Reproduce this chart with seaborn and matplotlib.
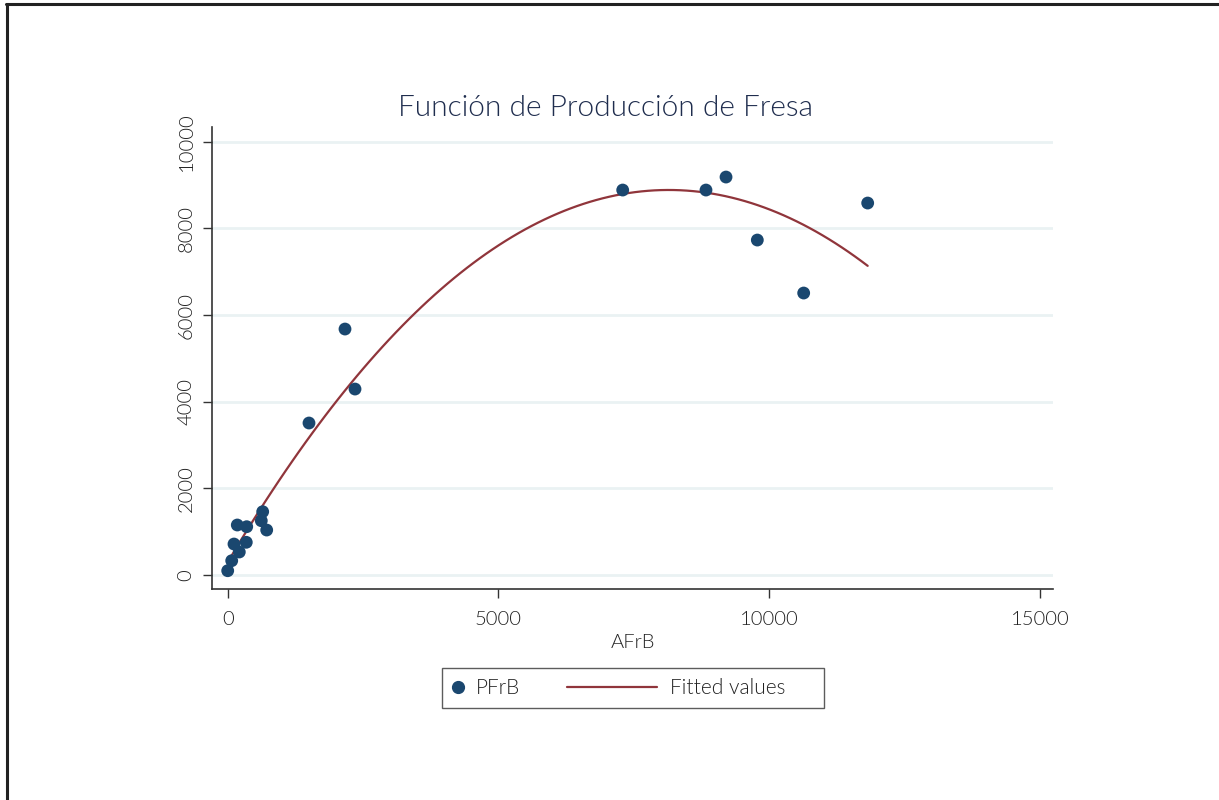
import matplotlib
matplotlib.use("Agg")
import matplotlib.pyplot as plt
from matplotlib.lines import Line2D
from matplotlib.legend_handler import HandlerLine2D
import pandas as pd
import seaborn as sns

# data
afrb = [0, 74, 116, 214, 177, 351, 343, 646, 620, 720,
        1501, 2166, 2351, 7294, 8832, 9202, 9780, 10636, 11818]
pfrb = [99, 330, 715, 531, 1154, 1115, 755, 1461, 1253, 1038,
        3508, 5677, 4292, 8885, 8885, 9185, 7731, 6508, 8585]
x_ticks = [0, 5000, 10000, 15000]
y_ticks = [0, 2000, 4000, 6000, 8000, 10000]

df = pd.DataFrame({"AFrB": afrb, "PFrB": pfrb})

navy = "#1a476f"
maroon = "#90353b"
grid_col = "#eaf2f3"
axis_col = "#333333"
text_col = "#222222"
fw = 300

sns.set_theme(style="white")
plt.rcParams["font.family"] = ["Lato", "DejaVu Sans"]

fig = plt.figure(figsize=(12.19, 8.0), dpi=100)
ax = fig.add_axes([212 / 1219, 1 - 589 / 800, (1053 - 212) / 1219, (589 - 127) / 800])

for yt in y_ticks:
    ax.axhline(yt, color=grid_col, lw=2, zorder=0)

sns.scatterplot(data=df, x="AFrB", y="PFrB", ax=ax, color=navy, s=85,
                edgecolor="none", legend=False, zorder=3)
sns.regplot(data=df, x="AFrB", y="PFrB", ax=ax, order=2, ci=None, scatter=False,
            line_kws={"color": maroon, "lw": 1.6, "zorder": 2})

ax.set_xlim(-290, 15240)
ax.set_ylim(-323, 10340)
ax.set_xticks(x_ticks)
ax.set_yticks(y_ticks)
ax.set_xticklabels([str(v) for v in x_ticks], fontsize=14.5, fontweight=fw, color=text_col)
ax.set_yticklabels([str(v) for v in y_ticks], fontsize=14.5, fontweight=fw, color=text_col,
                   rotation=90, va="center")
ax.tick_params(axis="x", direction="out", length=6.5, width=1, color=axis_col, pad=9, bottom=True)
ax.tick_params(axis="y", direction="out", length=6.5, width=1, color=axis_col, pad=6, left=True)
ax.set_xlabel("AFrB", fontsize=14.5, fontweight=fw, color=text_col, labelpad=5)
ax.set_ylabel("")
ax.set_title("Función de Producción de Fresa", fontsize=21.5, fontweight=fw, color="#1f2d4e",
             pad=8, x=(605 - 212) / 841)

for side in ["top", "right"]:
    ax.spines[side].set_visible(False)
for side in ["left", "bottom"]:
    ax.spines[side].set_color(axis_col)
    ax.spines[side].set_linewidth(1.2)


class LongLineHandler(HandlerLine2D):
    # stretch the line handle to the left so it is longer than the dot handle
    def create_artists(self, legend, orig_handle, xdescent, ydescent, width, height, fontsize, trans):
        extra = 3.85 * fontsize
        line = Line2D([-xdescent - extra, -xdescent + width], [height / 2 - ydescent] * 2,
                      color=orig_handle.get_color(), lw=orig_handle.get_linewidth())
        line.set_transform(trans)
        return [line]


dot = Line2D([], [], marker="o", ls="none", color=navy, markersize=8.5)
fit_line = Line2D([], [], color=maroon, lw=1.6)
# trailing spaces give the wider right margin of the original legend box
leg = fig.legend([dot, fit_line], ["PFrB", "Fitted values     "], loc="center",
                 bbox_to_anchor=(633 / 1219, 1 - 688 / 800), ncol=2,
                 prop={"size": 15, "weight": fw},
                 handlelength=0.5, handletextpad=0.6, columnspacing=6.1,
                 frameon=True, fancybox=False, borderpad=0.5, borderaxespad=0,
                 handler_map={fit_line: LongLineHandler()})
leg.get_frame().set_edgecolor(axis_col)
leg.get_frame().set_linewidth(1.0)
for t in leg.get_texts():
    t.set_color(text_col)

# outer frame lines of the original graph window
fig.add_artist(Line2D([6 / 1219, 1], [1 - 4 / 800, 1 - 4 / 800], transform=fig.transFigure,
                      color="#222222", lw=2.2))
fig.add_artist(Line2D([7 / 1219, 7 / 1219], [0, 1 - 4 / 800], transform=fig.transFigure,
                      color="#222222", lw=2.2))

fig.savefig("out.png", dpi=100, facecolor="white")
